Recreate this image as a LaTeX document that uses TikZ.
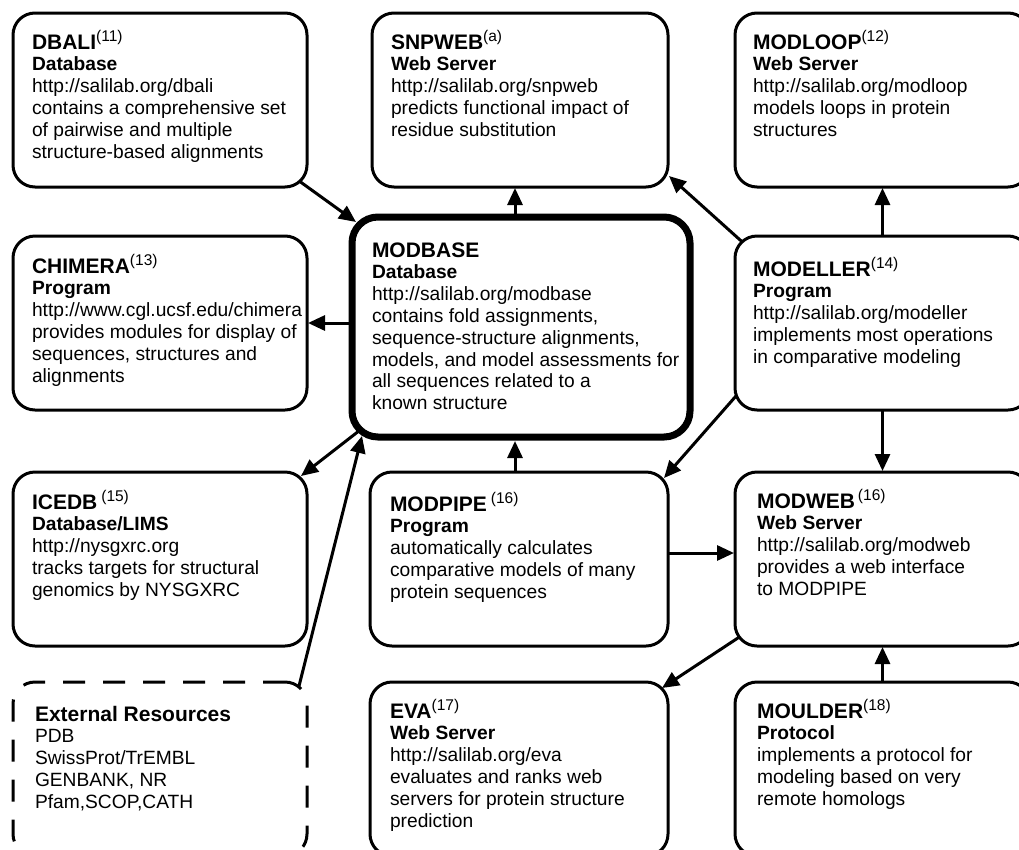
\documentclass[tikz,border=0pt]{standalone}
\usepackage{fontspec}
\setmainfont{Liberation Sans}
\usetikzlibrary{arrows.meta,calc,backgrounds}
\newcommand{\bxtitle}[2]{\rule{0pt}{20pt}{\fontsize{21}{21}\selectfont\bfseries #1}\raisebox{8pt}{\fontsize{15.5}{15.5}\selectfont #2}}
\newcommand{\bxsub}[1]{{\bfseries #1}}
\begin{document}
\begin{tikzpicture}[x=1pt,y=-1pt,
  box/.style={draw,line width=3pt,rounded corners=22pt,fill=white,anchor=north west,
    inner sep=0pt,outer sep=0pt,minimum width=294pt,minimum height=174pt},
  bigbox/.style={box,line width=7pt,rounded corners=26pt},
  extbox/.style={box,dash pattern=on 22pt off 18pt},
  txt/.style={anchor=north west,align=left,inner sep=0pt,outer sep=0pt,
    font=\fontsize{19.2}{21.8}\selectfont},
  arr/.style={line width=3pt,-{Triangle[length=17pt,width=15pt]}}]
\useasboundingbox (0,0) rectangle (1019,849);
\clip (0,0) rectangle (1019,849);

% boxes
\node[box] (dbali) at (13,13) {};
\node[box,minimum width=296pt] (snpweb) at (372,13) {};
\node[box,minimum width=295pt] (modloop) at (735,13) {};
\node[box] (chimera) at (13,236) {};
\node[bigbox,minimum width=338pt,minimum height=220pt] (modbase) at (352,217) {};
\node[box,minimum width=295pt] (modeller) at (735,236) {};
\node[box] (icedb) at (13,472) {};
\node[box,minimum width=298pt] (modpipe) at (370,472) {};
\node[box,minimum width=295pt] (modweb) at (735,472) {};
\node[extbox] (ext) at (13,682) {};
\node[box,minimum width=298pt] (eva) at (370,682) {};
\node[box,minimum width=295pt] (moulder) at (735,682) {};

% texts
\node[txt] (tdbali) at ($(dbali.north west)+(19,16)$) {\bxtitle{DBALI}{(11)}\\ \bxsub{Database}\\ http://salilab.org/dbali\\ contains a comprehensive set\\ of pairwise and multiple\\ structure-based alignments};
\node[txt] (tsnpweb) at ($(snpweb.north west)+(19,16)$) {\bxtitle{SNPWEB}{(a)}\\ \bxsub{Web Server}\\ http://salilab.org/snpweb\\ predicts functional impact of\\ residue substitution};
\node[txt] (tmodloop) at ($(modloop.north west)+(18,16)$) {\bxtitle{MODLOOP}{(12)}\\ \bxsub{Web Server}\\ http://salilab.org/modloop\\ models loops in protein\\ structures};
\node[txt] (tchimera) at ($(chimera.north west)+(19,17)$) {\bxtitle{CHIMERA}{(13)}\\ \bxsub{Program}\\ http://www.cgl.ucsf.edu/chimera\\ provides modules for display of\\ sequences, structures and\\ alignments};
\node[txt] (tmodbase) at ($(modbase.north west)+(20,20)$) {\bxtitle{MODBASE}{}\\ \bxsub{Database}\\ http://salilab.org/modbase\\ contains fold assignments,\\ sequence-structure alignments,\\ models, and model assessments for\\ all sequences related to a\\ known structure};
\node[txt] (tmodeller) at ($(modeller.north west)+(18,20)$) {\bxtitle{MODELLER}{(14)}\\ \bxsub{Program}\\ http://salilab.org/modeller\\ implements most operations\\ in comparative modeling};
\node[txt] (ticedb) at ($(icedb.north west)+(19,17)$) {\bxtitle{ICEDB}{\hspace{4pt}(15)}\\ \bxsub{Database/LIMS}\\ http://nysgxrc.org\\ tracks targets for structural\\ genomics by NYSGXRC};
\node[txt] (tmodpipe) at ($(modpipe.north west)+(20,19)$) {\bxtitle{MODPIPE}{\hspace{4pt}(16)}\\ \bxsub{Program}\\ automatically calculates\\ comparative models of many\\ protein sequences};
\node[txt] (tmodweb) at ($(modweb.north west)+(22,16)$) {\bxtitle{MODWEB}{\hspace{3pt}(16)}\\ \bxsub{Web Server}\\ http://salilab.org/modweb\\ provides a web interface\\ to MODPIPE};
\node[txt] (text) at ($(ext.north west)+(22,19)$) {\bxtitle{External Resources}{}\\ PDB\\ SwissProt/TrEMBL\\ GENBANK, NR\\ Pfam,SCOP,CATH};
\node[txt] (teva) at ($(eva.north west)+(20,16)$) {\bxtitle{EVA}{(17)}\\ \bxsub{Web Server}\\ http://salilab.org/eva\\ evaluates and ranks web\\ servers for protein structure\\ prediction};
\node[txt] (tmoulder) at ($(moulder.north west)+(22,16)$) {\bxtitle{MOULDER}{(18)}\\ \bxsub{Protocol}\\ implements a protocol for\\ modeling based on very\\ remote homologs};

% connectors
\begin{pgfonlayer}{background}
\draw[arr] ($(dbali.south east)+(-12,-9)$) -- ($(modbase.north west)+(4,5)$);
\draw[arr] ($(modbase.north)+(-6,10)$) -- ($(snpweb.south)+(-5,1)$);
\draw[arr] ($(modeller.north west)+(14,12)$) -- ($(snpweb.south east)+(1,-11)$);
\draw[arr] ($(modeller.north)+(0,10)$) -- ($(modloop.south)+(0,1)$);
\draw[arr] ($(modbase.west)+(10,-4)$) -- ($(chimera.east)+(1,0)$);
\draw[arr] ($(modbase.south west)+(12,-10)$) -- ($(icedb.north east)+(-6,4)$);
\draw[arr] ($(ext.north east)+(-9,8)$) -- ($(modbase.south west)+(10,-1)$);
\draw[arr] ($(modpipe.north)+(-4,10)$) -- ($(modbase.south)+(-6,4)$);
\draw[arr] ($(modeller.south west)+(8,-22)$) -- ($(modpipe.north east)+(-4,6)$);
\draw[arr] ($(modeller.south)+(0,-10)$) -- ($(modweb.north)+(0,-1)$);
\draw[arr] ($(modpipe.east)+(-10,-6)$) -- ($(modweb.west)+(-1,-6)$);
\draw[arr] ($(modweb.south west)+(15,-16)$) -- ($(eva.north east)+(-6,6)$);
\draw[arr] ($(moulder.north)+(0,10)$) -- ($(modweb.south)+(0,1)$);
\end{pgfonlayer}
\end{tikzpicture}
\end{document}
